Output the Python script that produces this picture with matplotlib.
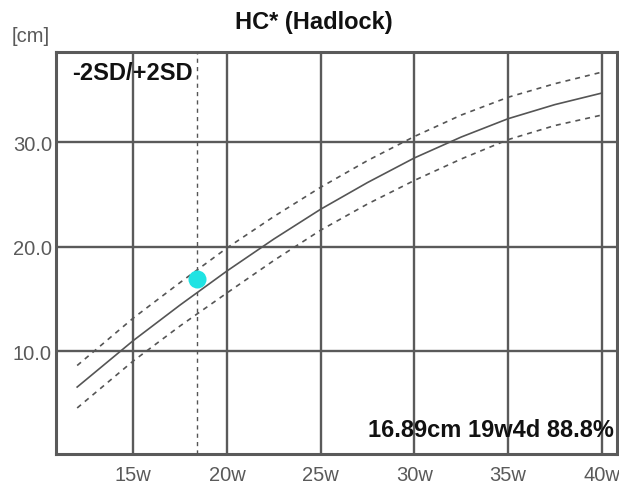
import matplotlib
matplotlib.use("Agg")
import matplotlib.pyplot as plt

plt.rcParams['font.family'] = ['Liberation Sans', 'DejaVu Sans']

# Data
weeks = [12, 15, 17.5, 20, 22.5, 25, 27.5, 30, 32.5, 35, 37.5, 40]
hc_mean = [6.6, 11.05, 14.45, 17.7, 20.75, 23.6, 26.15, 28.5, 30.5, 32.25, 33.6, 34.7]
hc_upper = [8.66, 13.2, 16.6, 19.9, 22.9, 25.7, 28.25, 30.55, 32.6, 34.3, 35.6, 36.7]
hc_lower = [4.6, 9.1, 12.45, 15.6, 18.7, 21.6, 24.1, 26.35, 28.4, 30.25, 31.6, 32.6]

meas_week = 18.4
meas_hc = 16.89

x_ticks = [15, 20, 25, 30, 35, 40]
x_tick_labels = ["15w", "20w", "25w", "30w", "35w", "40w"]
y_ticks = [10, 20, 30]
y_tick_labels = ["10.0", "20.0", "30.0"]

title = "HC* (Hadlock)"
unit_label = "[cm]"
sd_label = "-2SD/+2SD"
result_label = "16.89cm 19w4d 88.8%"

W, H = 619, 489
fig = plt.figure(figsize=(W / 100, H / 100), dpi=100)
ax = fig.add_axes([56 / W, 1 - 455 / H, (617 - 56) / W, (455 - 53) / H])

ax.set_xlim(10.87, 40.82)
ax.set_ylim(0.2, 38.63)

grid_c = "#5a5a5a"
ax.set_xticks(x_ticks)
ax.set_xticklabels(x_tick_labels)
ax.set_yticks(y_ticks)
ax.set_yticklabels(y_tick_labels)
ax.tick_params(axis='both', length=0, labelsize=14.5, labelcolor="#5a5a5a")
ax.tick_params(axis='x', pad=8)
ax.tick_params(axis='y', pad=3)
ax.grid(True, color=grid_c, linewidth=1.7)
ax.set_axisbelow(True)
for s in ax.spines.values():
    s.set_color(grid_c)
    s.set_linewidth(2.2)

line_c = "#555555"
ax.plot(weeks, hc_mean, color=line_c, linewidth=1.2, zorder=3)
ax.plot(weeks, hc_upper, color=line_c, linewidth=1.2, linestyle=(0, (3, 3)), zorder=3)
ax.plot(weeks, hc_lower, color=line_c, linewidth=1.2, linestyle=(0, (3, 3)), zorder=3)

ax.axvline(meas_week, color=line_c, linewidth=1.0, linestyle=(0, (3, 3)), zorder=3)
ax.plot([meas_week], [meas_hc], 'o', color="#1fe3e3", markersize=13, markeredgewidth=0, zorder=5)

ax.text(0.0285, 0.948, sd_label, transform=ax.transAxes, fontsize=17,
        fontweight='bold', ha='left', va='center', color="#111111", zorder=6)
ax.text(0.9947, 0.062, result_label, transform=ax.transAxes, fontsize=17,
        fontweight='bold', ha='right', va='center', color="#111111", zorder=6)

fig.text(314 / W, 1 - 22 / H, title, fontsize=17, fontweight='bold',
         ha='center', va='center', color="#111111")
fig.text(12 / W, 1 - 37 / H, unit_label, fontsize=14.5, ha='left', va='center',
         color="#5a5a5a")

fig.savefig("out.png", dpi=100)
